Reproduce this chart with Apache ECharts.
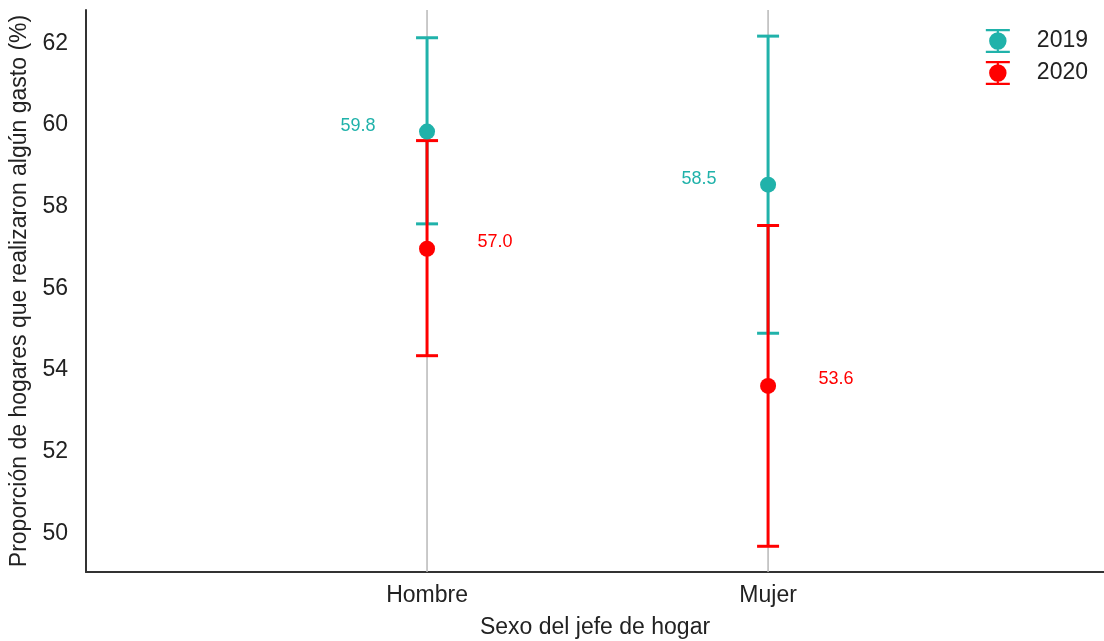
<!DOCTYPE html>
<html>
<head>
<meta charset="utf-8">
<script src="https://cdn.jsdelivr.net/npm/echarts@6/dist/echarts.min.js"></script>
<style>html,body{margin:0;padding:0;background:#fff;overflow:hidden}#c{width:1104px;height:641px}</style>
</head>
<body>
<div id="c"></div>
<script>
var categories = ['Hombre', 'Mujer'];
var years = ['2019', '2020'];
var mean2019 = [59.84, 58.54];
var low2019 = [57.58, 54.90];
var high2019 = [62.14, 62.18];
var mean2020 = [56.97, 53.61];
var low2020 = [54.35, 49.68];
var high2020 = [59.62, 57.54];
var yTicks = [50, 52, 54, 56, 58, 60, 62];
var colors = ['#20B2AA', '#FF0000'];

var FONT = "'Liberation Sans', Arial, sans-serif";
var chart = echarts.init(document.getElementById('c'), null, {renderer: 'canvas'});

function errData(lo, hi) {
  return categories.map(function (c, i) { return [i, lo[i], hi[i]]; });
}
function ptData(m) {
  return categories.map(function (c, i) { return [i, m[i]]; });
}
function errSeries(name, lo, hi, color) {
  return {
    type: 'custom', name: name, data: errData(lo, hi),
    itemStyle: {color: color},
    renderItem: function (params, api) {
      var x = api.value(0);
      var top = api.coord([x, api.value(2)]);
      var bot = api.coord([x, api.value(1)]);
      var hw = 11;
      var st = {stroke: color, lineWidth: 3};
      return {type: 'group', children: [
        {type: 'line', shape: {x1: top[0], y1: top[1], x2: bot[0], y2: bot[1]}, style: st},
        {type: 'line', shape: {x1: top[0] - hw, y1: top[1], x2: top[0] + hw, y2: top[1]}, style: st},
        {type: 'line', shape: {x1: bot[0] - hw, y1: bot[1], x2: bot[0] + hw, y2: bot[1]}, style: st}
      ]};
    },
    encode: {x: 0, y: [1, 2]}
  };
}
function ptSeries(name, m, color, off) {
  return {
    type: 'scatter', name: name, data: ptData(m), symbolSize: 16,
    itemStyle: {color: color, opacity: 1},
    label: {show: true, position: 'inside', offset: off, color: color, fontSize: 18, fontFamily: FONT,
      formatter: function (p) { return p.value[1].toFixed(1); }}
  };
}
var legendIcon = 'path://M1,1h22v2h-22z M1,21h22v2h-22z M11,1h2v22h-2z M4,12a8,8 0 1,1 16,0a8,8 0 1,1 -16,0z';

chart.setOption({
  animation: false,
  grid: {left: 86, right: 0, top: 10, bottom: 69, outerBoundsMode: 'none', containLabel: false},
  legend: {
    right: 11, top: 24, orient: 'vertical', itemWidth: 24, itemHeight: 24, itemGap: 8,
    textStyle: {fontSize: 23, fontFamily: FONT, color: '#222', padding: [0, 0, 0, 22]},
    data: [{name: years[0], icon: legendIcon, itemStyle: {color: colors[0]}},
           {name: years[1], icon: legendIcon, itemStyle: {color: colors[1]}}]
  },
  xAxis: {
    type: 'value', min: -1, max: 1.985, interval: 1,
    name: 'Sexo del jefe de hogar', nameLocation: 'middle', nameGap: 44,
    nameTextStyle: {fontSize: 23, fontFamily: FONT, color: '#222'},
    axisLine: {show: true, onZero: false, lineStyle: {color: '#333', width: 2}},
    axisTick: {show: false},
    axisLabel: {fontSize: 23, fontFamily: FONT, color: '#222', margin: 12,
      showMaxLabel: false,
      formatter: function (v) { return categories[v] !== undefined ? categories[v] : ''; }},
    splitLine: {show: false}
  },
  yAxis: {
    type: 'value', min: 49.05, max: 62.82,
    name: 'Proporción de hogares que realizaron algún gasto (%)', nameLocation: 'middle', nameGap: 49,
    nameTextStyle: {fontSize: 23, fontFamily: FONT, color: '#222'},
    axisLine: {show: true, onZero: false, lineStyle: {color: '#333', width: 2}},
    axisTick: {show: false},
    axisLabel: {fontSize: 23, fontFamily: FONT, color: '#222', margin: 18, customValues: yTicks},
    splitLine: {show: false}
  },
  series: [
    {
      type: 'custom', name: 'catlines', silent: true, z: 1,
      itemStyle: {color: '#b8b8b8'},
      data: categories.map(function (c, i) { return [i]; }),
      renderItem: function (params, api) {
        var cs = params.coordSys;
        var p = api.coord([api.value(0), 55]);
        return {type: 'line', shape: {x1: p[0], y1: cs.y, x2: p[0], y2: cs.y + cs.height},
          style: {stroke: '#b8b8b8', lineWidth: 1.5}};
      },
      encode: {x: 0}
    },
    errSeries(years[0], low2019, high2019, colors[0]),
    ptSeries(years[0], mean2019, colors[0], [-69, -6]),
    errSeries(years[1], low2020, high2020, colors[1]),
    ptSeries(years[1], mean2020, colors[1], [68, -7])
  ],
  color: colors
});
</script>
</body>
</html>
